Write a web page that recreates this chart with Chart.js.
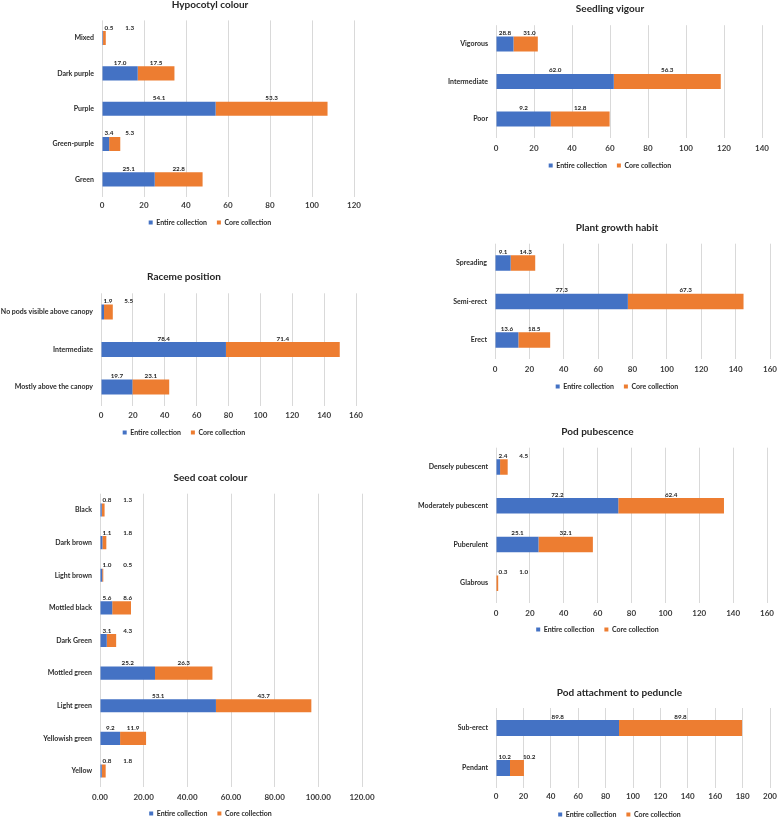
<!DOCTYPE html>
<html><head><meta charset="utf-8">
<script src="https://cdn.jsdelivr.net/npm/chart.js@4.4.1/dist/chart.umd.min.js"></script>
<style>
html,body{margin:0;padding:0;background:#fff;width:779px;height:817px;overflow:hidden;position:relative}
canvas{position:absolute}
</style></head><body>
<script>
// ---------- DATA ----------
const seriesNames = ['Entire collection', 'Core collection'];

const hypoCats   = ['Mixed', 'Dark purple', 'Purple', 'Green-purple', 'Green'];
const hypoEntire = [0.5, 17.0, 54.1, 3.4, 25.1];
const hypoCore   = [1.3, 17.5, 53.3, 5.3, 22.8];

const vigourCats   = ['Vigorous', 'Intermediate', 'Poor'];
const vigourEntire = [9.2, 62.0, 28.8];
const vigourCore   = [12.8, 56.3, 31.0];
// labels as printed in the figure
const vigourEntireLabels = ['28.8', '62.0', '9.2'];
const vigourCoreLabels   = ['31.0', '56.3', '12.8'];

const racemeCats   = ['No pods visible above canopy', 'Intermediate', 'Mostly above the canopy'];
const racemeEntire = [1.9, 78.4, 19.7];
const racemeCore   = [5.5, 71.4, 23.1];

const habitCats   = ['Spreading', 'Semi-erect', 'Erect'];
const habitEntire = [9.1, 77.3, 13.6];
const habitCore   = [14.3, 67.3, 18.5];

const pubCats   = ['Densely pubescent', 'Moderately pubescent', 'Puberulent', 'Glabrous'];
const pubEntire = [2.4, 72.2, 25.1, 0.3];
const pubCore   = [4.5, 62.4, 32.1, 1.0];

const seedCats   = ['Black', 'Dark brown', 'Light brown', 'Mottled black', 'Dark Green', 'Mottled green', 'Light green', 'Yellowish green', 'Yellow'];
const seedEntire = [0.8, 1.1, 1.0, 5.6, 3.1, 25.2, 53.1, 9.2, 0.8];
const seedCore   = [1.3, 1.8, 0.5, 8.6, 4.3, 26.3, 43.7, 11.9, 1.8];

const attachCats   = ['Sub-erect', 'Pendant'];
const attachEntire = [89.8, 10.2];
const attachCore   = [89.8, 10.2];

const axisMax = {hypo:120, vigour:140, raceme:160, habit:160, pub:160, seed:120, attach:200};

// ---------- STYLE / LAYOUT ----------
const BLUE = '#4472C4', ORANGE = '#ED7D31', TEXT = '#333333', GRID = '#D9D9D9';
Chart.defaults.font.family = 'Lato, "Open Sans", sans-serif';
Chart.defaults.font.weight = 'bold';
Chart.defaults.color = TEXT;

const panels = [
  {title:'Hypocotyl colour', cats:hypoCats, e:hypoEntire, c:hypoCore, max:axisMax.hypo, dec:0,
   L:0, R:420, plotL:102, plotR:354, titleY:5, top:20.4, bottom:197, tickY:206, legY:222},
  {title:'Seedling vigour', cats:vigourCats, e:vigourEntire, c:vigourCore, el:vigourEntireLabels, cl:vigourCoreLabels, max:axisMax.vigour, dec:0,
   L:441, R:779, plotL:496, plotR:762, titleY:9, top:25.2, bottom:137.7, tickY:149, legY:165},
  {title:'Raceme position', cats:racemeCats, e:racemeEntire, c:racemeCore, max:axisMax.raceme, dec:0,
   L:-20, R:388, plotL:101, plotR:356, titleY:277, top:293.3, bottom:405.7, tickY:416, legY:432},
  {title:'Plant growth habit', cats:habitCats, e:habitEntire, c:habitCore, max:axisMax.habit, dec:0,
   L:440, R:794, plotL:495, plotR:770, titleY:228, top:243.7, bottom:359.2, tickY:369, legY:386},
  {title:'Pod pubescence', cats:pubCats, e:pubEntire, c:pubCore, max:axisMax.pub, dec:0,
   L:404, R:791, plotL:496, plotR:767, titleY:432, top:447.7, bottom:602.5, tickY:613, legY:629},
  {title:'Seed coat colour', cats:seedCats, e:seedEntire, c:seedCore, max:axisMax.seed, dec:2,
   L:0, R:421, plotL:100, plotR:362, titleY:478, top:493.7, bottom:787.3, tickY:797, legY:813},
  {title:'Pod attachment to peduncle', cats:attachCats, e:attachEntire, c:attachCore, max:axisMax.attach, dec:0,
   L:445, R:794, plotL:496, plotR:770, titleY:693, top:708, bottom:788, tickY:797, legY:814}
];

const TITLE_SIZE = 10, TITLE_LH = 12;
const LEG_SIZE = 7, LEG_PAD = 10, LEG_H = LEG_SIZE + LEG_PAD + 10;
const TICK_SIZE = 8, CAT_SIZE = 7, LBL_SIZE = 6.3;

const labelPlugin = {
  id: 'stackLabels',
  afterDatasetsDraw(chart, args, opts) {
    const ctx = chart.ctx;
    const m0 = chart.getDatasetMeta(0), m1 = chart.getDatasetMeta(1);
    const x0 = chart.scales.x.getPixelForValue(0);
    ctx.save();
    ctx.font = 'bold ' + LBL_SIZE + 'px Lato, sans-serif';
    ctx.fillStyle = '#262626';
    ctx.textAlign = 'center';
    ctx.textBaseline = 'middle';
    m0.data.forEach((b0, i) => {
      const b1 = m1.data[i];
      const t0 = opts.e[i], t1 = opts.c[i];
      const w0 = ctx.measureText(t0).width, w1 = ctx.measureText(t1).width;
      const top = b0.y - b0.height / 2 - 3.5;
      const bx = Math.max((b0.base + b0.x) / 2, x0 + w0 / 2 + 2.5);
      const ox = Math.max((b1.base + b1.x) / 2, bx + w0 / 2 + 12 + w1 / 2);
      ctx.fillText(t0, bx, top);
      ctx.fillText(t1, ox, top);
    });
    ctx.restore();
  }
};

panels.forEach((p) => {
  const cv = document.createElement('canvas');
  const cTop = Math.floor(p.titleY - TITLE_LH / 2);
  const legTop = p.legY - LEG_PAD - LEG_SIZE / 2;
  const cBottom = Math.round(legTop + LEG_H);
  const W = p.R - p.L, H = cBottom - cTop;
  cv.width = W; cv.height = H;
  cv.style.left = p.L + 'px'; cv.style.top = cTop + 'px';
  cv.style.width = W + 'px'; cv.style.height = H + 'px';
  document.body.appendChild(cv);
  const titlePadBottom = p.top - cTop - TITLE_LH;
  const xH = (cBottom - LEG_H) - p.bottom;
  const tickPad = Math.max(0, Math.round(p.tickY - p.bottom - 5));
  const fmt = v => p.dec ? Number(v).toFixed(p.dec) : String(v);
  new Chart(cv, {
    type: 'bar',
    data: {
      labels: p.cats,
      datasets: [
        {label: seriesNames[0], data: p.e, backgroundColor: BLUE, borderWidth: 0, barPercentage: 0.4, categoryPercentage: 1},
        {label: seriesNames[1], data: p.c, backgroundColor: ORANGE, borderWidth: 0, barPercentage: 0.4, categoryPercentage: 1}
      ]
    },
    options: {
      indexAxis: 'y',
      responsive: false,
      animation: false,
      devicePixelRatio: 1,
      events: [],
      layout: {padding: 0},
      scales: {
        x: {
          stacked: true, min: 0, max: p.max,
          ticks: {stepSize: 20, padding: tickPad, color: '#3a3a3a', font: {size: TICK_SIZE, weight: 'bold'}, callback: v => fmt(v), maxRotation: 0, autoSkip: false},
          grid: {color: GRID, lineWidth: 1, drawTicks: false},
          border: {display: false},
          afterFit: s => { s.height = xH; }
        },
        y: {
          stacked: true,
          ticks: {padding: 8, color: '#2b2b2b', font: {size: CAT_SIZE, weight: 'bold'}, autoSkip: false},
          grid: {display: false, drawTicks: false},
          border: {display: false},
          afterFit: s => { s.width = p.plotL - p.L; }
        },
        y2: {
          type: 'linear', position: 'right', display: true,
          ticks: {display: false}, grid: {display: false, drawTicks: false}, border: {display: false},
          afterFit: s => { s.width = p.R - p.plotR; }
        }
      },
      plugins: {
        title: {display: true, text: p.title, color: '#262626', font: {size: TITLE_SIZE, weight: 'bold'}, padding: {top: 0, bottom: titlePadBottom}},
        legend: {display: true, position: 'bottom', labels: {boxWidth: 4, boxHeight: 4, padding: LEG_PAD, color: '#2b2b2b', font: {size: LEG_SIZE, weight: 'bold'}}},
        tooltip: {enabled: false},
        stackLabels: {
          e: p.el || p.e.map(v => v.toFixed(1)),
          c: p.cl || p.c.map(v => v.toFixed(1))
        }
      }
    },
    plugins: [labelPlugin]
  });
});
</script>
</body></html>
